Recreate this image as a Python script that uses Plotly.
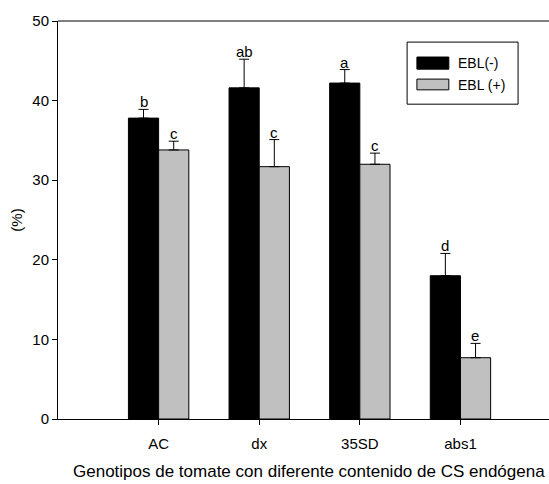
import plotly.graph_objects as go

categories = ["AC", "dx", "35SD", "abs1"]
ebl_minus = [37.8, 41.6, 42.2, 18.0]
ebl_minus_err = [1.1, 3.6, 1.7, 2.8]
ebl_plus = [33.8, 31.7, 32.0, 7.7]
ebl_plus_err = [1.1, 3.4, 1.4, 1.8]
letters_minus = ["b", "ab", "a", "d"]
letters_plus = ["c", "c", "c", "e"]
y_ticks = [0, 10, 20, 30, 40, 50]

FONT = "Liberation Sans, Arial, sans-serif"

fig = go.Figure()
fig.add_trace(go.Bar(
    x=categories, y=ebl_minus, name="EBL(-)",
    marker=dict(color="black", line=dict(color="black", width=1)),
    error_y=dict(type="data", array=ebl_minus_err, arrayminus=[0]*4,
                 color="black", thickness=1, width=5),
))
fig.add_trace(go.Bar(
    x=categories, y=ebl_plus, name="EBL (+)",
    marker=dict(color="#c0c0c0", line=dict(color="black", width=1)),
    error_y=dict(type="data", array=ebl_plus_err, arrayminus=[0]*4,
                 color="black", thickness=1, width=5),
))

annotations = []
for i, c in enumerate(categories):
    annotations.append(dict(x=i, xref="x", xshift=-15, y=ebl_minus[i] + ebl_minus_err[i], yref="y",
                            text=letters_minus[i], showarrow=False, yanchor="bottom", yshift=-3,
                            font=dict(family=FONT, size=15, color="black")))
    annotations.append(dict(x=i, xref="x", xshift=15, y=ebl_plus[i] + ebl_plus_err[i], yref="y",
                            text=letters_plus[i], showarrow=False, yanchor="bottom", yshift=-3,
                            font=dict(family=FONT, size=15, color="black")))

# custom legend
shapes = [
    dict(type="rect", xref="paper", yref="paper", x0=0.711, x1=0.937, y0=0.791, y1=0.947,
         line=dict(color="black", width=1), fillcolor="white"),
    dict(type="rect", xref="paper", yref="paper", x0=0.731, x1=0.796, y0=0.879, y1=0.9095,
         line=dict(color="black", width=1), fillcolor="black"),
    dict(type="rect", xref="paper", yref="paper", x0=0.731, x1=0.796, y0=0.827, y1=0.854,
         line=dict(color="black", width=1), fillcolor="#c0c0c0"),
]
annotations.append(dict(x=0.811, y=0.894, xref="paper", yref="paper", text="EBL(-)", showarrow=False,
                        xanchor="left", yanchor="middle", font=dict(family=FONT, size=14, color="black")))
annotations.append(dict(x=0.811, y=0.839, xref="paper", yref="paper", text="EBL (+)", showarrow=False,
                        xanchor="left", yanchor="middle", font=dict(family=FONT, size=14, color="black")))
# x axis title
annotations.append(dict(x=0.5, xshift=5, y=-0.1307, xref="paper", yref="paper",
                        text="Genotipos de tomate con diferente contenido de CS endógena",
                        showarrow=False, xanchor="center", yanchor="middle",
                        font=dict(family=FONT, size=17, color="black")))
# top border line
shapes.append(dict(type="line", xref="paper", yref="paper", x0=0, x1=1, y0=1, y1=1,
                   line=dict(color="black", width=1)))

fig.update_layout(
    width=549, height=484,
    margin=dict(l=58, r=0, t=21, b=65),
    plot_bgcolor="white", paper_bgcolor="white",
    barmode="group", bargap=0.4, bargroupgap=0,
    showlegend=False,
    font=dict(family=FONT, size=15, color="black"),
    shapes=shapes, annotations=annotations,
    xaxis=dict(range=[-1, 3.88], showline=True, linecolor="black", linewidth=1,
               ticks="outside", ticklen=5, tickcolor="black", showgrid=False, zeroline=False,
               ticklabelstandoff=6,
               tickfont=dict(family=FONT, size=15)),
    yaxis=dict(range=[0, 50], tickvals=y_ticks, showline=True, linecolor="black", linewidth=1,
               ticks="outside", ticklen=5, tickcolor="black", showgrid=False, zeroline=False,
               title=dict(text="(%)", font=dict(family=FONT, size=15), standoff=6),
               tickfont=dict(family=FONT, size=15)),
)

fig.write_html("out.html")
